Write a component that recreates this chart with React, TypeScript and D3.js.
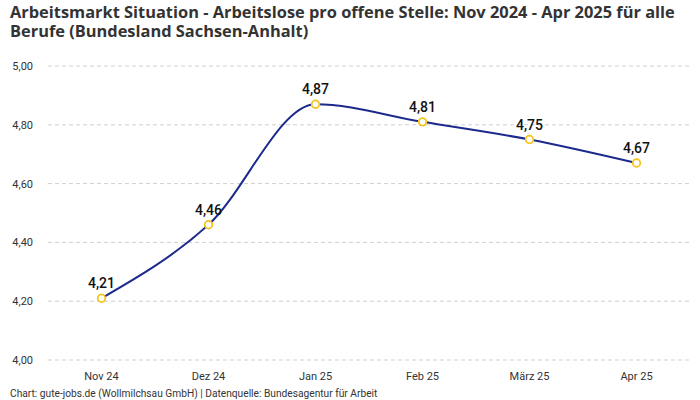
import { useEffect, useRef } from 'react';
import * as d3 from 'd3';

const months = ['Nov 24', 'Dez 24', 'Jan 25', 'Feb 25', 'März 25', 'Apr 25'];
const ratio = [4.21, 4.46, 4.87, 4.81, 4.75, 4.67];
const yTicks = [4.0, 4.2, 4.4, 4.6, 4.8, 5.0];

const fmt = (v: number) => v.toFixed(2).replace('.', ',');

export default function App() {
  const svgRef = useRef<SVGSVGElement>(null);

  useEffect(() => {
    if (!svgRef.current) return;
    const svg = d3.select(svgRef.current);
    svg.selectAll('*').remove();

    const font = 'Roboto, "Noto Sans", sans-serif';
    const m = { l: 48, r: 10, t: 66, b: 40 };
    const w = 700, h = 400;

    const x = d3.scaleBand<string>().domain(months).range([m.l, w - m.r]);
    const y = d3.scaleLinear().domain([4, 5]).range([h - m.b, m.t]);
    const cx = (d: string) => (x(d) ?? 0) + x.bandwidth() / 2;

    // title, two lines
    const titleLines = [
      'Arbeitsmarkt Situation - Arbeitslose pro offene Stelle: Nov 2024 - Apr 2025 für alle',
      'Berufe (Bundesland Sachsen-Anhalt)',
    ];
    titleLines.forEach((t, i) => {
      svg.append('text').attr('x', 10).attr('y', 18 + i * 19)
        .attr('font-family', '"Open Sans", sans-serif').attr('font-weight', 700)
        .attr('font-size', 16.4).attr('fill', '#333').text(t);
    });

    // grid + y labels
    const grid = svg.append('g');
    yTicks.forEach(t => {
      grid.append('line').attr('x1', m.l).attr('x2', w - m.r).attr('y1', y(t)).attr('y2', y(t))
        .attr('stroke', '#cfcfcf').attr('stroke-width', 1).attr('stroke-dasharray', '4,3');
      grid.append('text').attr('x', 33).attr('y', y(t) + 4).attr('text-anchor', 'end')
        .attr('font-family', font).attr('font-size', 11).attr('fill', '#333').text(fmt(t));
    });

    // x labels
    months.forEach(mo => {
      svg.append('text').attr('x', cx(mo)).attr('y', 380).attr('text-anchor', 'middle')
        .attr('font-family', font).attr('font-size', 11).attr('fill', '#333').text(mo);
    });

    const line = d3.line<number>().x((_, i) => cx(months[i])).y(d => y(d)).curve(d3.curveMonotoneX);
    svg.append('path').datum(ratio).attr('d', line).attr('fill', 'none')
      .attr('stroke', '#1b2a8c').attr('stroke-width', 2);

    ratio.forEach((v, i) => {
      svg.append('circle').attr('cx', cx(months[i])).attr('cy', y(v)).attr('r', 3.8)
        .attr('fill', '#fff').attr('stroke', '#f6c21c').attr('stroke-width', 1.8);
      svg.append('text').attr('x', cx(months[i])).attr('y', y(v) - 10).attr('text-anchor', 'middle')
        .attr('font-family', font).attr('font-weight', 500).attr('font-size', 14).attr('fill', '#111')
        .text(fmt(v));
    });

    svg.append('text').attr('x', 10).attr('y', 397).attr('font-family', font).attr('font-size', 10.2)
      .attr('fill', '#333').text('Chart: gute-jobs.de (Wollmilchsau GmbH) | Datenquelle: Bundesagentur für Arbeit');
  }, []);

  return (
    <svg ref={svgRef} width={700} height={400}
      style={{ position: 'absolute', left: 0, top: 0, background: '#fff' }} />
  );
}
